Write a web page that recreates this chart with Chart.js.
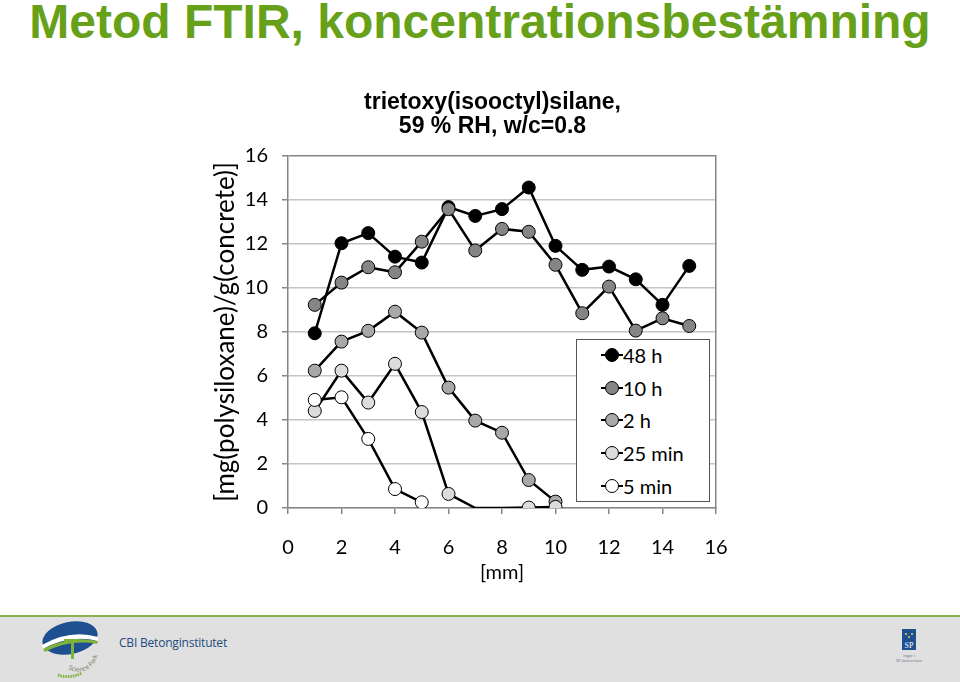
<!DOCTYPE html>
<html lang="sv">
<head>
<meta charset="utf-8">
<title>Metod FTIR, koncentrationsbestämning</title>
<script src="https://cdn.jsdelivr.net/npm/chart.js"></script>
<style>
  html, body { margin: 0; padding: 0; }
  body { width: 960px; height: 682px; position: relative; overflow: hidden; background: #fff; }
  #rubrik { position: absolute; left: 0; top: -2px; width: 960px; text-align: center;
            font: bold 48px/48px "Liberation Sans", Arial, sans-serif; color: #67a11a; white-space: nowrap; }
  #graf { position: absolute; left: 0; top: 0; }
  #legend { position: absolute; left: 576px; top: 339px; width: 132px; height: 161px;
            border: 1px solid #555; background: #fff; font: 20px Lato, sans-serif; color: #000; }
  .rad { height: 32.75px; display: flex; align-items: center; }
  .rad:first-child { margin-top: -1.5px; }
  .symbol { position: relative; width: 22px; height: 14px; margin-left: 24px; }
  .symbol .linje { position: absolute; left: 0; right: 0; top: 6px; height: 2px; background: #000; }
  .symbol .prick { position: absolute; left: 4px; top: 0; width: 12px; height: 12px; border: 1px solid #000;
                   border-radius: 50%; box-sizing: content-box; }
  #fot { position: absolute; left: 0; top: 615px; width: 960px; height: 65px; background: #e0e0e0;
         border-top: 2px solid #8db14f; }
  #cbi { position: absolute; left: 119px; top: 17px; font: 12px "Open Sans", sans-serif; color: #234a7e;
         letter-spacing: -0.2px; }
</style>
</head>
<body>
<div id="rubrik">Metod FTIR, koncentrationsbestämning</div>
<canvas id="graf" width="960" height="682"></canvas>
<div id="legend"></div>
<div id="fot">
  <svg width="100" height="65" style="position:absolute;left:30px;top:0">
    <ellipse cx="40" cy="21" rx="28" ry="16" transform="rotate(-12 40 21)" fill="#1d4f91"/>
    <path d="M12 28 Q40 12 68 20 L68 24 Q40 17 13 32 Z" fill="#ffffff"/>
    <path d="M13 32 Q40 18 68 24 L67 27 Q40 22 15 35 Z" fill="#7fb23a"/>
    <rect x="41" y="22" width="3" height="20" fill="#7fb23a"/>
    <path d="M34 22 L51 22 L51 25 L34 25 Z" fill="#7fb23a"/>
    <path id="bage" d="M38 52 A20 20 0 0 0 66 26" fill="none"/>
    <text font-family="Open Sans" font-size="6.5" fill="#6f7f5f"><textPath href="#bage">Science Park</textPath></text>
    <path d="M28 58 Q40 62 52 56" stroke="#7fb23a" stroke-width="3" stroke-dasharray="1.5 1" fill="none"/>
  </svg>
  <div id="cbi">CBI Betonginstitutet</div>
  <svg width="40" height="50" style="position:absolute;left:890px;top:11px">
    <rect x="12" y="1" width="14" height="21" fill="#1d4f91"/>
    <circle cx="16" cy="6" r="1" fill="#f4d24a"/><circle cx="22" cy="6" r="1" fill="#f4d24a"/><circle cx="19" cy="9" r="1" fill="#f4d24a"/>
    <text x="19" y="20" text-anchor="middle" font-family="Liberation Serif" font-size="8" fill="#fff">SP</text>
    <text x="19" y="29" text-anchor="middle" font-family="Open Sans" font-size="4" fill="#667">ingår i</text>
    <text x="19" y="34" text-anchor="middle" font-family="Open Sans" font-size="4" fill="#667">SP-koncernen</text>
  </svg>
</div>
<script>
// avstånd från ytan [mm]
const avstand = [1, 2, 3, 4, 5, 6, 7, 8, 9, 10, 11, 12, 13, 14, 15];

// koncentration [mg(polysiloxane)/g(concrete)] per tid
const h48 = [7.94, 12.03, 12.49, 11.42, 11.15, 13.67, 13.27, 13.58, 14.56, 11.91, 10.82, 10.97, 10.39, 9.23, 11.0];
const h10 = [9.23, 10.24, 10.94, 10.71, 12.1, 13.58, 11.7, 12.68, 12.55, 11.05, 8.85, 10.06, 8.06, 8.62, 8.27];
const h2 = [6.24, 7.56, 8.05, 8.92, 7.97, 5.47, 3.97, 3.42, 1.27, 0.29];
const min25 = [4.41, 6.24, 4.79, 6.55, 4.36, 0.64, 0, 0, 0.02, 0.05];
const min5 = [4.91, 5.03, 3.14, 0.86, 0.26];

const serieNamn = ['48 h', '10 h', '2 h', '25 min', '5 min'];
const serieData = [h48, h10, h2, min25, min5];
const serieFarg = ['#000000', '#858585', '#a8a8a8', '#dcdcdc', '#ffffff'];

const xTicks = [0, 2, 4, 6, 8, 10, 12, 14, 16];
const yTicks = [0, 2, 4, 6, 8, 10, 12, 14, 16];
const titelRader = ['trietoxy(isooctyl)silane,', '59 % RH, w/c=0.8'];

const datasets = serieNamn.map((namn, i) => ({
    label: namn,
    data: serieData[i].map((v, j) => ({ x: avstand[j], y: v })),
    borderColor: '#000',
    borderWidth: 2.5,
    backgroundColor: serieFarg[i],
    pointBackgroundColor: serieFarg[i],
    pointBorderColor: '#000',
    pointBorderWidth: 1,
    // 25 min: inga markörer där kurvan ligger på noll
    pointRadius: serieData[i].map(v => (i === 3 && v === 0 ? 0 : 6.5)),
    tension: 0,
    order: serieNamn.length - i
}));

const ctx = document.getElementById('graf').getContext('2d');
const axelFarg = '#868686';
const tickFont = { family: 'Lato', size: 20 };

const chart = new Chart(ctx, {
    type: 'line',
    data: { datasets: datasets },
    options: {
        responsive: false,
        animation: false,
        layout: { padding: { left: 210, right: 185, top: 91, bottom: 97 } },
        plugins: {
            legend: { display: false },
            tooltip: { enabled: false },
            title: {
                display: true,
                text: titelRader,
                color: '#000',
                font: { family: 'Liberation Sans', size: 23, weight: 'bold', lineHeight: 1.04 },
                padding: { top: 0, bottom: 17 }
            }
        },
        scales: {
            x: {
                type: 'linear',
                min: 0,
                max: 16,
                afterBuildTicks: s => { s.ticks = xTicks.map(v => ({ value: v })); },
                ticks: { color: '#000', font: tickFont, padding: 22, maxRotation: 0 },
                grid: { drawOnChartArea: false, tickLength: 6, color: axelFarg, lineWidth: 1.5 },
                border: { color: axelFarg, width: 1.5 },
                title: { display: true, text: '[mm]', color: '#000', font: tickFont, padding: 0 },
                afterFit: s => { s.height = 77; }
            },
            y: {
                type: 'linear',
                min: 0,
                max: 16,
                afterBuildTicks: s => { s.ticks = yTicks.map(v => ({ value: v })); },
                ticks: { color: '#000', font: tickFont, padding: 14 },
                grid: {
                    color: c => (c.tick && c.tick.value === 16 ? axelFarg : '#c4c4c4'),
                    lineWidth: 1.5,
                    tickLength: 6,
                    tickColor: axelFarg
                },
                border: { color: axelFarg, width: 1.5 },
                title: {
                    display: true,
                    text: '[mg(polysiloxane)/g(concrete)]',
                    color: '#000',
                    font: { family: 'Lato', size: 26, lineHeight: 1.2 },
                    padding: 0
                },
                afterFit: s => { s.width = 78; }
            },
            y2: {
                type: 'linear',
                position: 'right',
                min: 0,
                max: 16,
                ticks: { display: false },
                grid: { drawOnChartArea: false, drawTicks: false },
                border: { color: axelFarg, width: 1.5 },
                afterFit: s => { s.width = 59; }
            }
        }
    }
});

// legend byggd från diagrammets dataserier
const legend = document.getElementById('legend');
chart.data.datasets.forEach(ds => {
    const rad = document.createElement('div');
    rad.className = 'rad';
    rad.innerHTML = '<span class="symbol"><span class="linje"></span><span class="prick" style="background:' +
        ds.pointBackgroundColor + '"></span></span><span>' + ds.label + '</span>';
    legend.appendChild(rad);
});
</script>
</body>
</html>
